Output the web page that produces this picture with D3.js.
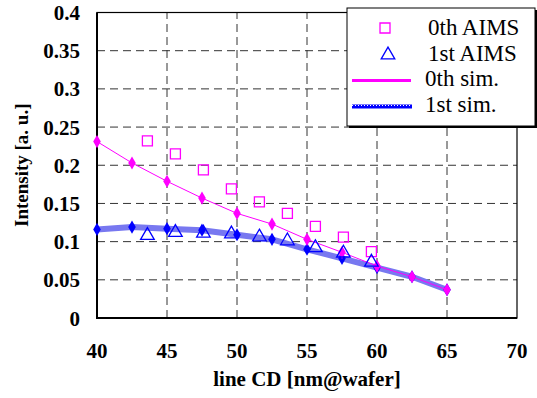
<!DOCTYPE html>
<head>
    <title>AIMS intensity vs line CD</title>
    <script src='https://d3js.org/d3.v7.min.js'></script>
    <style>
        body { margin: 0; background: #fff; }
    </style>
</head>
<body>
    <svg></svg>
</body>

<script>
    // Data
    var simCD = [40, 42.5, 45, 47.5, 50, 52.5, 55, 57.5, 60, 62.5, 65];
    var sim0 = [0.231, 0.203, 0.179, 0.157, 0.137, 0.123, 0.103, 0.086, 0.068, 0.054, 0.037];
    var sim1 = [0.116, 0.119, 0.117, 0.115, 0.109, 0.103, 0.090, 0.078, 0.066, 0.054, 0.037];
    var aimsCD = [43.6, 45.6, 47.6, 49.6, 51.6, 53.6, 55.6, 57.6, 59.6];
    var aims0 = [0.232, 0.215, 0.194, 0.169, 0.152, 0.137, 0.120, 0.106, 0.087];
    var aims1 = [0.108, 0.112, 0.111, 0.110, 0.106, 0.101, 0.092, 0.085, 0.073];
    var xTicks = [40, 45, 50, 55, 60, 65, 70];
    var yTicks = [0, 0.05, 0.1, 0.15, 0.2, 0.25, 0.3, 0.35, 0.4];
    var legendLabels = ['0th AIMS', '1st AIMS', '0th sim.', '1st sim.'];

    var vWidth = 537, vHeight = 398;
    var vFont = "'Liberation Serif', 'Times New Roman', 'DejaVu Serif', serif";
    var svg = d3.select('svg').attr('width', vWidth).attr('height', vHeight)
        .style('font-family', vFont);

    var x = d3.scaleLinear().domain([40, 70]).range([97, 517]);
    var y = d3.scaleLinear().domain([0, 0.4]).range([318, 12.5]);

    // Grid
    svg.append('g').selectAll('line').data(yTicks.slice(1, -1)).enter().append('line')
        .attr('x1', x(40)).attr('x2', x(70))
        .attr('y1', function (d) { return y(d); }).attr('y2', function (d) { return y(d); })
        .style('stroke', '#333').style('stroke-dasharray', '8,5');
    svg.append('g').selectAll('line').data(xTicks.slice(1, -1)).enter().append('line')
        .attr('y1', y(0)).attr('y2', y(0.4))
        .attr('x1', function (d) { return x(d); }).attr('x2', function (d) { return x(d); })
        .style('stroke', '#333').style('stroke-dasharray', '8,5');

    // Frame
    svg.append('rect')
        .attr('x', x(40)).attr('y', y(0.4))
        .attr('width', x(70) - x(40)).attr('height', y(0) - y(0.4))
        .style('fill', 'none').style('stroke', '#000').style('stroke-width', 1.2);
    svg.append('line').attr('x1', x(40)).attr('x2', x(40)).attr('y1', y(0.4)).attr('y2', y(0) + 1)
        .style('stroke', '#000').style('stroke-width', 2);
    svg.append('line').attr('x1', x(40) - 1).attr('x2', x(70)).attr('y1', y(0)).attr('y2', y(0))
        .style('stroke', '#000').style('stroke-width', 2);

    // Tick labels
    svg.append('g').selectAll('text').data(yTicks).enter().append('text')
        .attr('x', 80).attr('y', function (d) { return y(d) + 7.5; })
        .attr('text-anchor', 'end')
        .style('font-family', vFont)
        .style('font-size', '21px').style('font-weight', 'bold')
        .text(function (d) { return String(+d.toFixed(2)); });
    svg.append('g').selectAll('text').data(xTicks).enter().append('text')
        .attr('x', function (d) { return x(d); }).attr('y', 358)
        .attr('text-anchor', 'middle')
        .style('font-family', vFont)
        .style('font-size', '21px').style('font-weight', 'bold')
        .text(function (d) { return d; });

    // Axis titles
    svg.append('text')
        .attr('transform', 'translate(28,' + (y(0) + y(0.4)) / 2 + ') rotate(-90)')
        .attr('text-anchor', 'middle')
        .style('font-family', vFont)
        .style('font-size', '19px').style('font-weight', 'bold')
        .text('Intensity [a. u.]');
    svg.append('text')
        .attr('x', (x(40) + x(70)) / 2).attr('y', 386)
        .attr('text-anchor', 'middle')
        .style('font-family', vFont)
        .style('font-size', '21px').style('font-weight', 'bold')
        .text('line CD [nm@wafer]');

    var line = d3.line()
        .x(function (d) { return x(d[0]); })
        .y(function (d) { return y(d[1]); });
    var diamond = d3.symbol().type(d3.symbolDiamond).size(50);

    // 1st sim: thick light blue line with blue diamonds
    var s1 = d3.zip(simCD, sim1);
    svg.append('path').attr('d', line(s1))
        .style('fill', 'none').style('stroke', '#7878f0').style('stroke-width', 6)
        .style('stroke-linejoin', 'round');
    svg.append('g').selectAll('path').data(s1).enter().append('path')
        .attr('d', diamond)
        .attr('transform', function (d) { return 'translate(' + x(d[0]) + ',' + y(d[1]) + ')'; })
        .style('fill', '#0000ff');

    // 0th sim: thin magenta line with diamonds
    var s0 = d3.zip(simCD, sim0);
    svg.append('path').attr('d', line(s0))
        .style('fill', 'none').style('stroke', '#ff00ff').style('stroke-width', 1);
    svg.append('g').selectAll('path').data(s0).enter().append('path')
        .attr('d', diamond)
        .attr('transform', function (d) { return 'translate(' + x(d[0]) + ',' + y(d[1]) + ')'; })
        .style('fill', '#ff00ff');

    // AIMS markers
    var sq = d3.symbol().type(d3.symbolSquare).size(100);
    var tri = d3.symbol().type(d3.symbolTriangle).size(80);
    svg.append('g').selectAll('path').data(d3.zip(aimsCD, aims0)).enter().append('path')
        .attr('d', sq)
        .attr('transform', function (d) { return 'translate(' + x(d[0]) + ',' + y(d[1]) + ')'; })
        .style('fill', 'none').style('stroke', '#ff00ff').style('stroke-width', 1.3);
    svg.append('g').selectAll('path').data(d3.zip(aimsCD, aims1)).enter().append('path')
        .attr('d', tri)
        .attr('transform', function (d) { return 'translate(' + x(d[0]) + ',' + y(d[1]) + ')'; })
        .style('fill', 'none').style('stroke', '#0000ff').style('stroke-width', 1.3);

    // Legend
    var lg = svg.append('g');
    lg.append('rect').attr('x', 349).attr('y', 10).attr('width', 188).attr('height', 118)
        .style('fill', '#000');
    lg.append('rect').attr('x', 347).attr('y', 8).attr('width', 188).attr('height', 118)
        .style('fill', '#fff').style('stroke', '#000').style('stroke-width', 1);
    var rowY = [28, 55, 80.5, 106.5];
    var baseY = [35, 61, 86, 112];
    lg.append('path').attr('d', sq).attr('transform', 'translate(385,' + rowY[0] + ')')
        .style('fill', 'none').style('stroke', '#ff00ff').style('stroke-width', 1.3);
    lg.append('path').attr('d', tri).attr('transform', 'translate(388,' + rowY[1] + ')')
        .style('fill', 'none').style('stroke', '#0000ff').style('stroke-width', 1.3);
    lg.append('line').attr('x1', 352).attr('x2', 411).attr('y1', rowY[2]).attr('y2', rowY[2])
        .style('stroke', '#ff00ff').style('stroke-width', 3);
    lg.append('line').attr('x1', 352).attr('x2', 412).attr('y1', rowY[3]).attr('y2', rowY[3])
        .style('stroke', '#0000ff').style('stroke-width', 4);
    lg.append('line').attr('x1', 352).attr('x2', 412).attr('y1', rowY[3] - 1).attr('y2', rowY[3] - 1)
        .style('stroke', '#fff').style('stroke-width', 1).style('stroke-dasharray', '1,2');
    lg.selectAll('text.lbl').data(legendLabels).enter().append('text')
        .attr('x', function (d, i) { return i < 2 ? 428 : 425; })
        .attr('y', function (d, i) { return baseY[i]; })
        .style('font-family', vFont)
        .style('font-size', '23px')
        .text(function (d) { return d; });
</script>
